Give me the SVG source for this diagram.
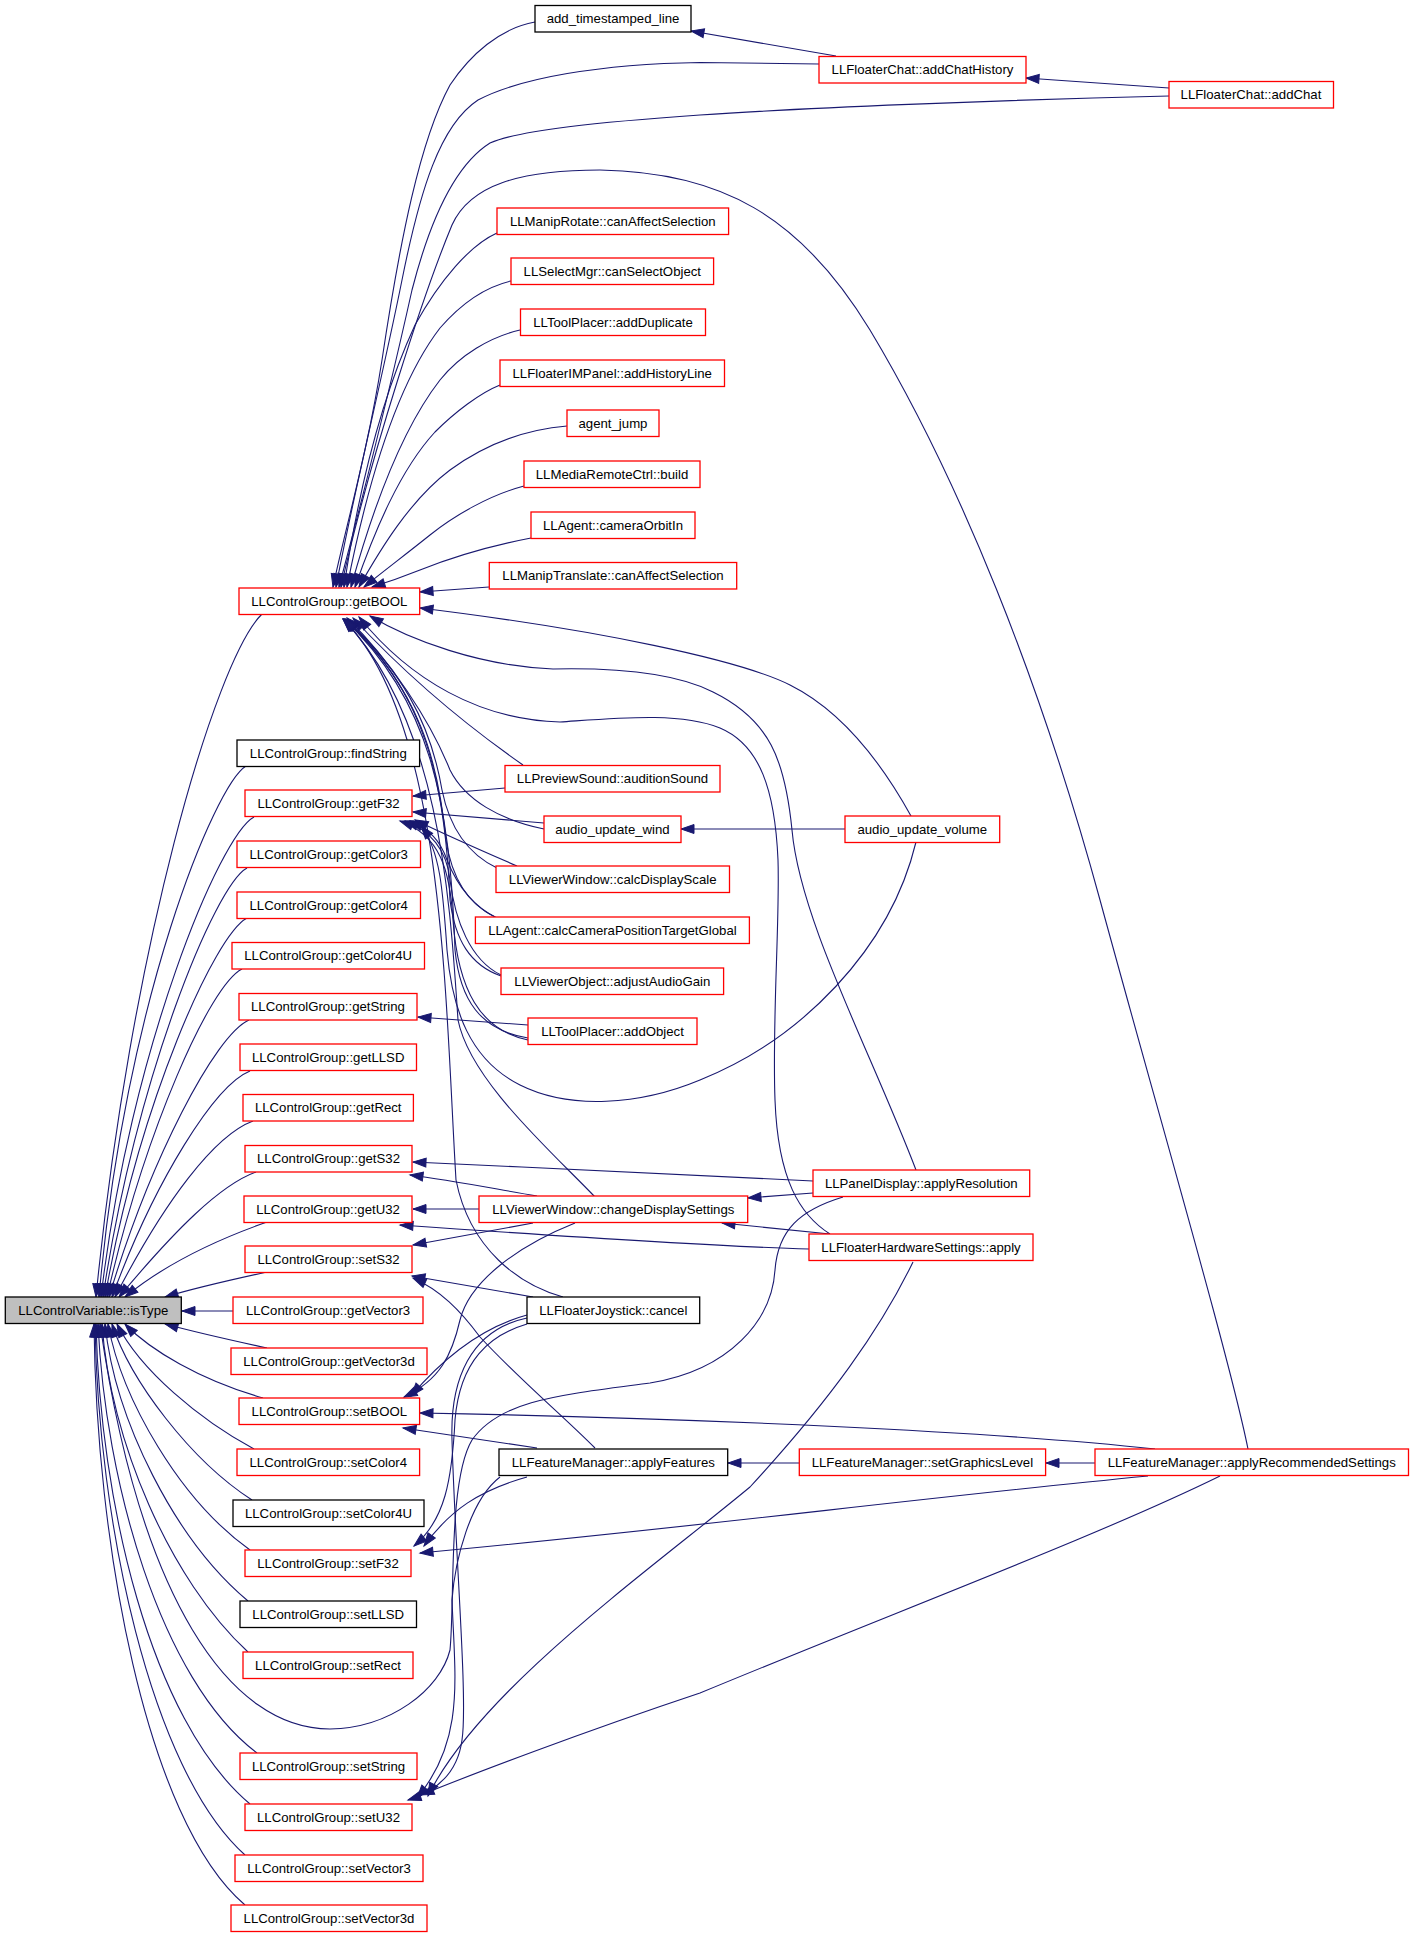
<svg xmlns="http://www.w3.org/2000/svg" width="1413" height="1937" viewBox="0 0 1413 1937">
<style>
rect{fill:#fff;stroke:#ff0000;stroke-width:1.3}
.k rect{stroke:#000}
.g rect{fill:#bfbfbf;stroke:#000}
text{font-family:"Liberation Sans",Arial,sans-serif;font-size:13.2px;fill:#000;text-anchor:middle}
#edges path{fill:none;stroke:#191970;stroke-width:1.1;marker-end:url(#ah)}
</style>
<defs>
<marker id="ah" markerUnits="userSpaceOnUse" markerWidth="14" markerHeight="11" refX="13" refY="5" orient="auto" overflow="visible">
<path d="M0,0.5 L13,5 L0,9.5 z" fill="#191970" stroke="#191970" stroke-width="1"/>
</marker>
</defs>
<rect x="0" y="0" width="1413" height="1937" style="fill:#fff;stroke:none"/>
<g id="edges">
<!-- to isType (upper) -->
<path d="M262,614 C215,660 130,950 96,1297"/>
<path d="M246,766 C215,785 125,1000 99,1297"/>
<path d="M254,817 C220,835 130,1050 101,1297"/>
<path d="M247,868 C215,885 135,1080 103,1297"/>
<path d="M247,918 C215,935 140,1100 105,1297"/>
<path d="M242,969 C210,985 145,1130 107,1297"/>
<path d="M249,1020 C215,1035 150,1160 109,1297"/>
<path d="M250,1071 C215,1085 155,1180 112,1297"/>
<path d="M253,1121 C215,1135 165,1200 115,1297"/>
<path d="M256,1172 C220,1185 175,1230 119,1297"/>
<path d="M267,1222 C230,1235 170,1260 125,1297"/>
<path d="M267,1272 C230,1280 195,1288 165,1297"/>
<!-- to isType (side/lower) -->
<path d="M233,1311 L182,1311"/>
<path d="M267,1348 C230,1340 195,1332 165,1324"/>
<path d="M263,1398 C200,1380 150,1350 125,1324"/>
<path d="M254,1449 C200,1420 140,1370 117,1324"/>
<path d="M252,1500 C190,1460 130,1380 112,1324"/>
<path d="M250,1550 C180,1500 122,1400 108,1324"/>
<path d="M248,1601 C175,1540 115,1420 105,1324"/>
<path d="M248,1652 C170,1580 110,1440 102,1324"/>
<path d="M257,1753 C160,1680 105,1480 98,1324"/>
<path d="M250,1804 C150,1720 100,1500 96,1324"/>
<path d="M245,1855 C150,1770 98,1520 95,1324"/>
<path d="M245,1905 C145,1820 96,1540 94,1324"/>
<path d="M843,1197 C800,1210 778,1230 775,1270 C772,1320 730,1370 650,1383 C560,1395 500,1400 472,1440 C448,1480 455,1600 450,1650 C440,1690 390,1728 330,1729 C230,1729 140,1600 100,1324"/>
<!-- to getBOOL -->
<path d="M535,22 C500,28 470,55 450,85 C420,140 400,240 382,360 C368,450 345,530 333,587"/>
<path d="M819,64 L700,62.5 C600,64 520,78 478,100 C440,125 420,190 402,280 C382,380 352,500 336,587"/>
<path d="M1169,96 C1000,100 800,108 700,115 C600,122 520,130 490,143 C455,165 430,220 412,290 C392,380 362,500 339,587"/>
<path d="M1248,1449 C1230,1360 1160,1120 1100,900 C1040,680 960,480 870,330 C800,215 720,172 600,170 C520,170 470,185 452,225 C425,290 372,450 341,587"/>
<path d="M497,233 C470,245 440,280 415,325 C385,390 360,480 344,587"/>
<path d="M511,281 C485,287 460,305 440,328 C400,380 370,470 347,587"/>
<path d="M520,330 C490,337 460,355 440,380 C405,425 375,500 351,587"/>
<path d="M500,385 C480,393 455,412 435,432 C400,470 375,530 355,587"/>
<path d="M567,426 C520,430 480,448 450,470 C410,500 380,550 359,587"/>
<path d="M524,486 C490,495 455,515 430,535 C405,555 385,570 364,587"/>
<path d="M531,538 C490,546 450,558 420,570 C400,578 385,583 372,587"/>
<path d="M489,587 L420,592"/>
<path d="M911,816 C880,760 840,710 790,685 C740,660 600,630 420,608"/>
<path d="M916,1170 C870,1050 800,920 792,830 C785,760 770,720 713,692 C670,670 600,668 553,669 C480,666 410,640 370,616"/>
<path d="M830,1234 C800,1215 778,1180 775,1100 C772,1020 780,920 778,860 C775,790 760,745 720,728 C680,712 620,718 560,722 C480,720 410,680 359,617"/>
<path d="M523,765 C480,735 420,690 353,618"/>
<path d="M544,829 C500,820 465,800 450,770 C430,720 390,660 347,618"/>
<path d="M497,868 C470,855 450,830 442,790 C430,720 400,670 346,619"/>
<path d="M495,917 C470,905 452,880 446,840 C438,760 420,690 345,619"/>
<path d="M501,976 C470,965 455,940 450,900 C445,780 425,690 344,619"/>
<path d="M528,1038 C480,1030 460,1000 455,950 C450,800 430,700 344,619"/>
<path d="M595,1197 C550,1150 470,1080 458,1020 C450,900 440,720 343,619"/>
<path d="M563,1297 C520,1285 470,1250 456,1180 C445,1000 445,720 343,619"/>
<!-- to getF32 -->
<path d="M505,788 L413,796"/>
<path d="M544,823 L413,812"/>
<path d="M916,842 C890,950 800,1040 700,1080 C640,1105 570,1110 520,1085 C470,1060 452,1010 447,950 C443,890 440,850 421,826"/>
<path d="M517,866 C480,850 440,832 415,820"/>
<path d="M497,918 C470,905 455,880 447,860 C440,840 430,830 410,821"/>
<path d="M501,975 C470,960 455,920 450,880 C447,850 430,830 405,821"/>
<path d="M528,1040 C480,1030 458,990 453,920 C450,870 440,835 400,821"/>
<!-- to getString -->
<path d="M528,1025 L418,1017"/>
<!-- to getS32 -->
<path d="M813,1181 C700,1176 550,1168 413,1162"/>
<path d="M537,1196 C490,1188 450,1180 410,1175"/>
<!-- to getU32 -->
<path d="M479,1209 L413,1209"/>
<path d="M809,1249 C700,1246 500,1232 400,1225"/>
<!-- to changeDisplaySettings -->
<path d="M813,1193 L748,1198"/>
<path d="M830,1234 L722,1223"/>
<!-- to setS32 -->
<path d="M533,1223 L413,1245"/>
<path d="M533,1297 L412,1276"/>
<path d="M595,1448 C560,1413 520,1380 480,1337 C460,1310 440,1290 413,1278"/>
<!-- to setBOOL -->
<path d="M1155,1449 C1000,1432 700,1418 420,1413"/>
<path d="M537,1448 L403,1428"/>
<path d="M527,1315 C490,1325 450,1350 411,1396"/>
<path d="M575,1223 C520,1245 470,1280 460,1320 C452,1355 440,1380 404,1397"/>
<!-- to setF32 -->
<path d="M1148,1476 C900,1500 700,1527 420,1553"/>
<path d="M527,1477 C480,1490 450,1510 424,1546"/>
<path d="M527,1324 C490,1335 460,1360 455,1420 C452,1480 445,1520 414,1546"/>
<!-- to setU32 -->
<path d="M1220,1476 C1100,1535 900,1610 700,1693 C580,1733 470,1775 421,1795"/>
<path d="M913,1262 C880,1330 830,1400 750,1487 C650,1570 480,1690 428,1796"/>
<path d="M500,1477 C470,1500 455,1560 452,1600 C455,1680 465,1740 417,1798"/>
<path d="M527,1318 C470,1330 450,1380 452,1440 C455,1550 468,1700 462,1740 C458,1770 440,1790 408,1800"/>
<!-- others -->
<path d="M845,829 L681,829"/>
<path d="M1169,88 L1026,78"/>
<path d="M836,56 L691,31"/>
<path d="M799,1463 L728,1463"/>
<path d="M1095,1463 L1046,1463"/>
</g>
<g id="n_add_timestamped_line" class="k"><rect x="535" y="5.5" width="156" height="26.5"/><text x="613" y="23">add_timestamped_line</text></g>
<g id="n_addChatHistory"><rect x="819" y="56.5" width="207" height="26.5"/><text x="922.5" y="74">LLFloaterChat::addChatHistory</text></g>
<g id="n_addChat"><rect x="1169" y="81.5" width="164.5" height="26.5"/><text x="1251" y="99">LLFloaterChat::addChat</text></g>
<g id="n_manipRotate"><rect x="497" y="208" width="231.6" height="26.5"/><text x="612.8" y="225.5">LLManipRotate::canAffectSelection</text></g>
<g id="n_selectMgr"><rect x="511" y="258" width="202.6" height="26.5"/><text x="612.3" y="275.5">LLSelectMgr::canSelectObject</text></g>
<g id="n_addDuplicate"><rect x="520.5" y="309" width="185" height="26.5"/><text x="613" y="326.5">LLToolPlacer::addDuplicate</text></g>
<g id="n_addHistoryLine"><rect x="500" y="360" width="224.5" height="26.5"/><text x="612.2" y="377.5">LLFloaterIMPanel::addHistoryLine</text></g>
<g id="n_agent_jump"><rect x="567" y="410" width="92" height="26.5"/><text x="613" y="427.5">agent_jump</text></g>
<g id="n_build"><rect x="524" y="461" width="176" height="26.5"/><text x="612" y="478.5">LLMediaRemoteCtrl::build</text></g>
<g id="n_cameraOrbitIn"><rect x="531" y="512" width="164" height="26.5"/><text x="613" y="529.5">LLAgent::cameraOrbitIn</text></g>
<g id="n_manipTranslate"><rect x="489.3" y="562.5" width="247.4" height="26.5"/><text x="613" y="580">LLManipTranslate::canAffectSelection</text></g>
<g id="n_getBOOL"><rect x="239" y="588" width="180.7" height="26.5"/><text x="329.3" y="605.5">LLControlGroup::getBOOL</text></g>
<g id="n_findString" class="k"><rect x="237" y="740" width="182.6" height="26.5"/><text x="328.3" y="757.5">LLControlGroup::findString</text></g>
<g id="n_getF32"><rect x="245" y="790" width="167" height="26.5"/><text x="328.5" y="807.5">LLControlGroup::getF32</text></g>
<g id="n_getColor3"><rect x="237" y="841" width="183.5" height="26.5"/><text x="328.7" y="858.5">LLControlGroup::getColor3</text></g>
<g id="n_getColor4"><rect x="237" y="892" width="183.5" height="26.5"/><text x="328.7" y="909.5">LLControlGroup::getColor4</text></g>
<g id="n_getColor4U"><rect x="232" y="942.5" width="192.5" height="26.5"/><text x="328.2" y="960">LLControlGroup::getColor4U</text></g>
<g id="n_getString"><rect x="239" y="993.5" width="178" height="26.5"/><text x="328" y="1011">LLControlGroup::getString</text></g>
<g id="n_getLLSD"><rect x="240" y="1044" width="176.5" height="26.5"/><text x="328.2" y="1061.5">LLControlGroup::getLLSD</text></g>
<g id="n_getRect"><rect x="243" y="1094.5" width="170.4" height="26.5"/><text x="328.2" y="1112">LLControlGroup::getRect</text></g>
<g id="n_getS32"><rect x="245" y="1145.5" width="167" height="26.5"/><text x="328.5" y="1163">LLControlGroup::getS32</text></g>
<g id="n_getU32"><rect x="244" y="1196" width="168" height="26.5"/><text x="328" y="1213.5">LLControlGroup::getU32</text></g>
<g id="n_setS32"><rect x="245" y="1246" width="167" height="26.5"/><text x="328.5" y="1263.5">LLControlGroup::setS32</text></g>
<g id="n_isType" class="g"><rect x="5.3" y="1297" width="176" height="26.5"/><text x="93.3" y="1314.5">LLControlVariable::isType</text></g>
<g id="n_getVector3"><rect x="233" y="1297" width="190" height="26.5"/><text x="328" y="1314.5">LLControlGroup::getVector3</text></g>
<g id="n_getVector3d"><rect x="231" y="1348" width="196" height="26.5"/><text x="329" y="1365.5">LLControlGroup::getVector3d</text></g>
<g id="n_setBOOL"><rect x="239" y="1398" width="180.6" height="26.5"/><text x="329.3" y="1415.5">LLControlGroup::setBOOL</text></g>
<g id="n_setColor4"><rect x="237" y="1449" width="182.6" height="26.5"/><text x="328.3" y="1466.5">LLControlGroup::setColor4</text></g>
<g id="n_setColor4U" class="k"><rect x="233" y="1500" width="191" height="26.5"/><text x="328.5" y="1517.5">LLControlGroup::setColor4U</text></g>
<g id="n_setF32"><rect x="245" y="1550" width="166" height="26.5"/><text x="328" y="1567.5">LLControlGroup::setF32</text></g>
<g id="n_setLLSD" class="k"><rect x="240" y="1601" width="176.5" height="26.5"/><text x="328.2" y="1618.5">LLControlGroup::setLLSD</text></g>
<g id="n_setRect"><rect x="243" y="1652" width="170" height="26.5"/><text x="328" y="1669.5">LLControlGroup::setRect</text></g>
<g id="n_setString"><rect x="240" y="1753" width="177" height="26.5"/><text x="328.5" y="1770.5">LLControlGroup::setString</text></g>
<g id="n_setU32"><rect x="245" y="1804" width="167" height="26.5"/><text x="328.5" y="1821.5">LLControlGroup::setU32</text></g>
<g id="n_setVector3"><rect x="235" y="1855" width="188" height="26.5"/><text x="329" y="1872.5">LLControlGroup::setVector3</text></g>
<g id="n_setVector3d"><rect x="231" y="1905" width="196" height="26.5"/><text x="329" y="1922.5">LLControlGroup::setVector3d</text></g>
<g id="n_auditionSound"><rect x="505" y="765.5" width="215" height="26.5"/><text x="612.5" y="783">LLPreviewSound::auditionSound</text></g>
<g id="n_audio_update_wind"><rect x="544" y="816" width="137" height="26.5"/><text x="612.5" y="833.5">audio_update_wind</text></g>
<g id="n_calcDisplayScale"><rect x="496" y="866" width="233.5" height="26.5"/><text x="612.7" y="883.5">LLViewerWindow::calcDisplayScale</text></g>
<g id="n_calcCamera"><rect x="475.4" y="917" width="274" height="26.5"/><text x="612.4" y="934.5">LLAgent::calcCameraPositionTargetGlobal</text></g>
<g id="n_adjustAudioGain"><rect x="501" y="968" width="222.6" height="26.5"/><text x="612.3" y="985.5">LLViewerObject::adjustAudioGain</text></g>
<g id="n_addObject"><rect x="528" y="1018" width="169" height="26.5"/><text x="612.5" y="1035.5">LLToolPlacer::addObject</text></g>
<g id="n_changeDisplaySettings"><rect x="479" y="1196" width="268.7" height="26.5"/><text x="613.3" y="1213.5">LLViewerWindow::changeDisplaySettings</text></g>
<g id="n_joystickCancel" class="k"><rect x="527" y="1297" width="172.7" height="26.5"/><text x="613.3" y="1314.5">LLFloaterJoystick::cancel</text></g>
<g id="n_applyFeatures" class="k"><rect x="499" y="1449" width="228.7" height="26.5"/><text x="613.3" y="1466.5">LLFeatureManager::applyFeatures</text></g>
<g id="n_audio_update_volume"><rect x="845" y="816" width="154.7" height="26.5"/><text x="922.3" y="833.5">audio_update_volume</text></g>
<g id="n_applyResolution"><rect x="813" y="1170" width="216.7" height="26.5"/><text x="921.3" y="1187.5">LLPanelDisplay::applyResolution</text></g>
<g id="n_hwApply"><rect x="809" y="1234" width="224" height="26.5"/><text x="921" y="1251.5">LLFloaterHardwareSettings::apply</text></g>
<g id="n_setGraphicsLevel"><rect x="799.3" y="1449" width="246.3" height="26.5"/><text x="922.4" y="1466.5">LLFeatureManager::setGraphicsLevel</text></g>
<g id="n_applyRecommended"><rect x="1095" y="1449" width="313.5" height="26.5"/><text x="1251.7" y="1466.5">LLFeatureManager::applyRecommendedSettings</text></g>
</svg>
